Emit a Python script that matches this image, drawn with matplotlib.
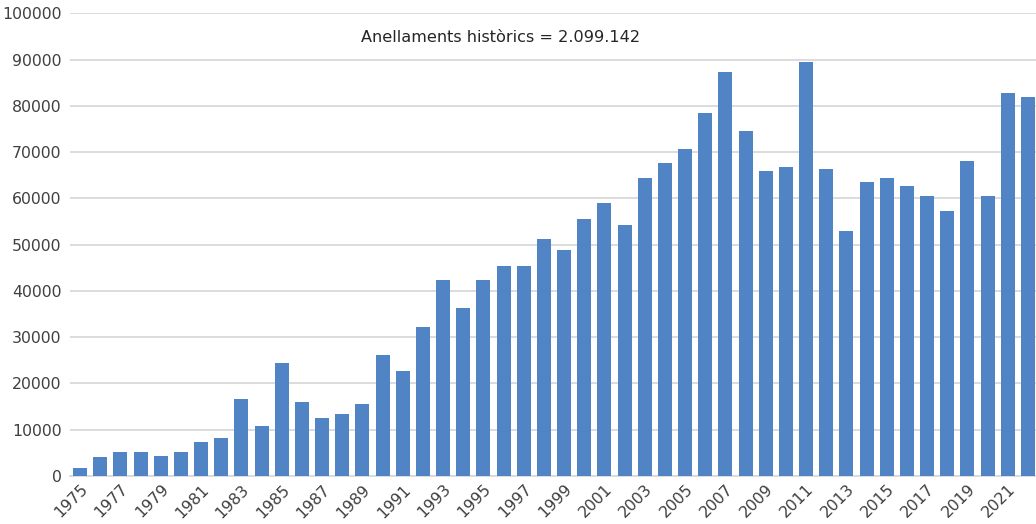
import matplotlib
matplotlib.use("Agg")
import matplotlib.pyplot as plt
import numpy as np

years = list(range(1975, 2023))
values = [1800, 4000, 5200, 5200, 4300, 5200, 7350, 8200, 16640, 10800,
          24420, 16000, 12540, 13400, 15560, 26150, 22690, 32200, 42290, 36240,
          42290, 45310, 45310, 51150, 48770, 55470, 58930, 54180, 64470, 67710,
          70740, 78520, 87380, 74630, 65980, 66850, 89470, 66420, 52880, 63610,
          64470, 62740, 60580, 57200, 68150, 60580, 82840, 81980]
annotation = "Anellaments històrics = 2.099.142"
yticks = list(range(0, 100001, 10000))

W, H = 1036, 524
fig = plt.figure(figsize=(W / 100, H / 100), dpi=100)
left, right = 70 / W, 1036 / W
bottom, top = (H - 476) / H, (H - 13.3) / H
ax = fig.add_axes([left, bottom, right - left, top - bottom])

x = np.arange(len(years))
ax.bar(x, values, width=0.69, color="#5084C4", zorder=3)

ax.set_xlim(-0.5, len(years) - 0.6)
ax.set_ylim(0, 100000)
ax.set_yticks(yticks)
ax.set_yticklabels([str(t) for t in yticks], fontsize=11.3, color="#404040")
ax.yaxis.grid(True, color="#D9D9D9", linewidth=1.3, zorder=0)
ax.set_axisbelow(True)

ax.set_xticks(x[::2])
ax.set_xticklabels([str(y) for y in years[::2]], rotation=45, ha="right",
                   rotation_mode="anchor", fontsize=11.3, color="#404040")
ax.tick_params(axis="both", length=0, pad=4)
ax.tick_params(axis="y", pad=6)

for s in ["top", "right", "left"]:
    ax.spines[s].set_visible(False)
ax.spines["bottom"].set_color("#D9D9D9")
ax.spines["bottom"].set_linewidth(1.3)

fig.text(501 / W, 1 - 38 / H, annotation, ha="center", va="center",
         fontsize=11.6, color="#262626")

fig.savefig("out.png", dpi=100)
